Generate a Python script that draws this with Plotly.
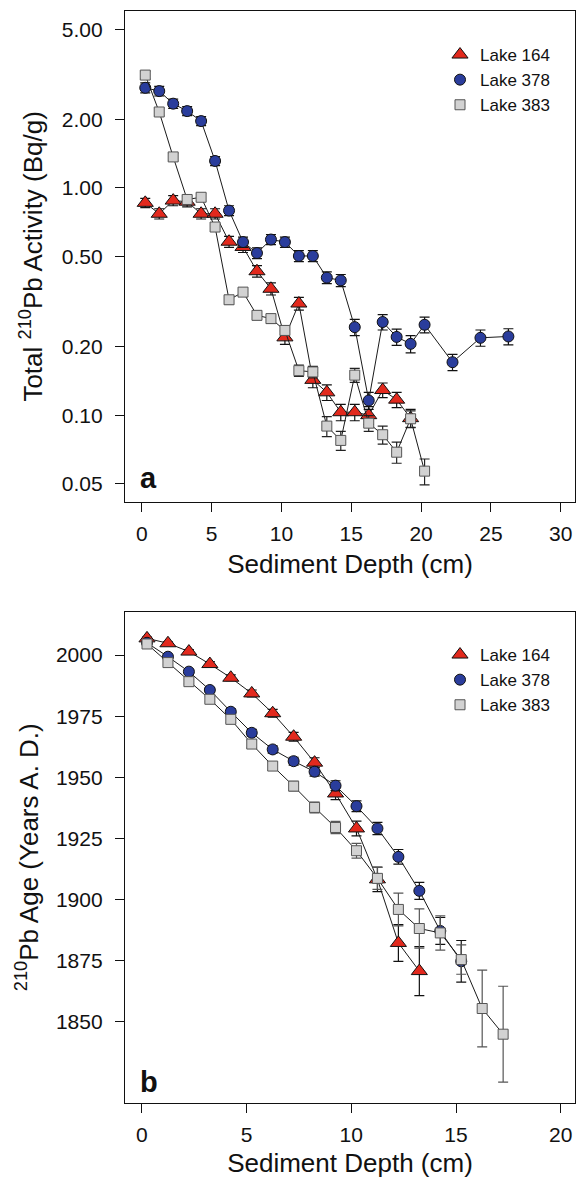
import plotly.graph_objects as go

# ---------------- data: panel a (total 210Pb activity, Bq/g) ----------------
depth_a_164 = [0.25, 1.25, 2.25, 3.25, 4.25, 5.25, 6.25, 7.25, 8.25, 9.25,
               10.25, 11.25, 12.25, 13.25, 14.25, 15.25, 16.25, 17.25, 18.25, 19.25]
act_164 = [0.86, 0.77, 0.88, 0.87, 0.77, 0.77, 0.58, 0.55, 0.43, 0.36,
           0.22, 0.31, 0.143, 0.126, 0.103, 0.103, 0.100, 0.129, 0.117, 0.097]
act_164_err = [0.04, 0.04, 0.045, 0.045, 0.04, 0.04, 0.032, 0.03, 0.025, 0.022,
               0.015, 0.02, 0.011, 0.01, 0.0085, 0.0085, 0.009, 0.0095, 0.009, 0.009]

depth_a_378 = [0.25, 1.25, 2.25, 3.25, 4.25, 5.25, 6.25, 7.25, 8.25, 9.25,
               10.25, 11.25, 12.25, 13.25, 14.25, 15.25, 16.25, 17.25, 18.25, 19.25,
               20.25, 22.25, 24.25, 26.25]
act_378 = [2.76, 2.67, 2.35, 2.18, 1.97, 1.315, 0.795, 0.578, 0.517, 0.593,
           0.578, 0.502, 0.502, 0.403, 0.392, 0.244, 0.116, 0.257, 0.221, 0.206,
           0.250, 0.171, 0.219, 0.222]
act_378_err = [0.14, 0.13, 0.11, 0.10, 0.09, 0.06, 0.04, 0.03, 0.028, 0.03,
               0.03, 0.028, 0.028, 0.024, 0.024, 0.02, 0.01, 0.02, 0.018, 0.018,
               0.02, 0.014, 0.018, 0.018]

depth_a_383 = [0.25, 1.25, 2.25, 3.25, 4.25, 5.25, 6.25, 7.25, 8.25, 9.25,
               10.25, 11.25, 12.25, 13.25, 14.25, 15.25, 16.25, 17.25, 18.25, 19.25,
               20.25]
act_383 = [3.14, 2.16, 1.37, 0.89, 0.91, 0.673, 0.322, 0.348, 0.275, 0.266,
           0.236, 0.157, 0.155, 0.0895, 0.0774, 0.150, 0.0922, 0.082, 0.0687, 0.0964,
           0.0567]
act_383_err = [0.12, 0.08, 0.05, 0.035, 0.035, 0.027, 0.014, 0.015, 0.012, 0.012,
               0.011, 0.009, 0.009, 0.009, 0.0074, 0.0105, 0.0073, 0.0075, 0.0073, 0.008,
               0.0074]

# ---------------- data: panel b (210Pb age, years A.D.) ----------------
depth_b_164 = [0.25, 1.25, 2.25, 3.25, 4.25, 5.25, 6.25, 7.25, 8.25, 9.25,
               10.25, 11.25, 12.25, 13.25]
age_164 = [2006.8, 2004.8, 2001.4, 1996.3, 1990.7, 1984.3, 1976.2, 1966.6, 1956.0, 1943.4,
           1929.1, 1908.3, 1882.3, 1870.8]
age_164_err = [0.5, 0.6, 0.8, 1.0, 1.2, 1.4, 1.6, 1.8, 2.0, 2.5,
               3.0, 5.0, 7.5, 10.0]

depth_b_378 = [0.25, 1.25, 2.25, 3.25, 4.25, 5.25, 6.25, 7.25, 8.25, 9.25,
               10.25, 11.25, 12.25, 13.25, 14.25, 15.25]
age_378 = [2005.0, 1999.3, 1993.2, 1985.7, 1976.8, 1968.2, 1961.4, 1956.6, 1952.3, 1946.6,
           1938.2, 1929.1, 1917.5, 1903.6, 1887.2, 1874.8]
age_378_err = [0.5, 0.6, 0.8, 1.0, 1.2, 1.4, 1.5, 1.6, 1.8, 2.0,
               2.2, 2.5, 3.0, 3.5, 5.5, 8.5]

depth_b_383 = [0.25, 1.25, 2.25, 3.25, 4.25, 5.25, 6.25, 7.25, 8.25, 9.25,
               10.25, 11.25, 12.25, 13.25, 14.25, 15.25, 16.25, 17.25]
age_383 = [2004.5, 1996.9, 1989.1, 1981.9, 1973.7, 1963.6, 1954.6, 1946.4, 1937.7, 1929.5,
           1920.0, 1908.7, 1896.0, 1888.2, 1886.4, 1875.5, 1855.5, 1845.0]
age_383_err = [0.5, 0.7, 0.9, 1.1, 1.3, 1.5, 1.7, 2.0, 2.2, 2.5,
               3.0, 4.5, 6.7, 8.0, 7.0, 6.0, 15.7, 19.6]

lake_names = ["Lake 164", "Lake 378", "Lake 383"]

ya_ticks = [5, 2, 1, 0.5, 0.2, 0.1, 0.05]
ya_ticktext = ["5.00", "2.00", "1.00", "0.50", "0.20", "0.10", "0.05"]
xa_ticks = [0, 5, 10, 15, 20, 25, 30]
yb_ticks = [1850, 1875, 1900, 1925, 1950, 1975, 2000]
xb_ticks = [0, 5, 10, 15, 20]

xa_title = "Sediment Depth (cm)"
ya_title = "Total <sup>210</sup>Pb Activity (Bq/g)"
xb_title = "Sediment Depth (cm)"
yb_title = "<sup>210</sup>Pb Age (Years A. D.)"

# ---------------- styles ----------------
FONT = "Liberation Sans, Arial, Helvetica, sans-serif"
W, H = 577, 1178
styles = {
    "Lake 164": dict(symbol="triangle-up", size=14, color="#e2291d", line=dict(color="#111111", width=1)),
    "Lake 378": dict(symbol="circle", size=11, color="#2a3d9c", line=dict(color="#111111", width=1)),
    "Lake 383": dict(symbol="square", size=10, color="#d2d2d2", line=dict(color="#555555", width=1)),
}

def px_y(p):
    return 1 - p / H

fig = go.Figure()

panel_a = [("Lake 164", depth_a_164, act_164, act_164_err, "#111111"),
           ("Lake 378", depth_a_378, act_378, act_378_err, "#111111"),
           ("Lake 383", depth_a_383, act_383, act_383_err, "#222222")]
panel_b = [("Lake 164", depth_b_164, age_164, age_164_err, "#111111"),
           ("Lake 378", depth_b_378, age_378, age_378_err, "#111111"),
           ("Lake 383", depth_b_383, age_383, age_383_err, "#555555")]

for (panel, xa, ya, leg) in [(panel_a, "x", "y", "legend"), (panel_b, "x2", "y2", "legend2")]:
    for name, xs, ys, es, ecol in panel:
        fig.add_trace(go.Scatter(
            x=xs, y=ys, mode="lines+markers", name=name, showlegend=False,
            xaxis=xa, yaxis=ya,
            line=dict(color="#1a1a1a", width=1),
            marker=styles[name],
            error_y=dict(type="data", array=es, visible=True, color=ecol, thickness=1.2, width=5),
        ))
    for name in lake_names:
        fig.add_trace(go.Scatter(
            x=[None], y=[None], mode="markers", name=name, showlegend=True,
            xaxis=xa, yaxis=ya, legend=leg, marker=styles[name],
        ))

axis_common = dict(
    ticks="outside", ticklen=9, tickwidth=1.2, tickcolor="#111111",
    showline=True, linewidth=1.3, linecolor="#111111", mirror=True,
    showgrid=False, zeroline=False, automargin=False,
    tickfont=dict(family=FONT, size=21, color="#111111"),
)
title_font = dict(family=FONT, size=26, color="#111111")

xdom = [125 / W, 575 / W]
legend_common = dict(xanchor="left", yanchor="top",
                     font=dict(family=FONT, size=17, color="#111111"),
                     bgcolor="rgba(0,0,0,0)", itemclick=False)
fig.update_layout(
    width=W, height=H,
    margin=dict(l=0, r=0, t=0, b=0),
    paper_bgcolor="white", plot_bgcolor="white",
    font=dict(family=FONT, color="#111111"),
    xaxis=dict(domain=xdom, anchor="y", range=[-1.2, 31.02], tickvals=xa_ticks,
               ticklabelstandoff=4,
               title=dict(text=xa_title, font=title_font, standoff=10), **axis_common),
    yaxis=dict(domain=[px_y(501.7), px_y(11)], anchor="x", type="log",
               range=[-1.381, 0.779], tickvals=ya_ticks, ticktext=ya_ticktext,
               ticklabelstandoff=8,
               title=dict(text=ya_title, font=title_font, standoff=11), **axis_common),
    xaxis2=dict(domain=xdom, anchor="y2", range=[-0.8, 20.68], tickvals=xb_ticks,
                ticklabelstandoff=4,
                title=dict(text=xb_title, font=title_font, standoff=10), **axis_common),
    yaxis2=dict(domain=[px_y(1102.7), px_y(611.7)], anchor="x2",
                range=[1817.0, 2017.7], tickvals=yb_ticks,
                ticklabelstandoff=8,
                title=dict(text=yb_title, font=title_font, standoff=9), **axis_common),
    legend=dict(x=440 / W, y=px_y(37), **legend_common),
    legend2=dict(x=440 / W, y=px_y(637), **legend_common),
)

for lab, yc in [("a", 478.5), ("b", 1081.5)]:
    fig.add_annotation(xref="paper", yref="paper", showarrow=False,
                       xanchor="left", yanchor="middle", x=138 / W, y=px_y(yc),
                       text="<b>%s</b>" % lab,
                       font=dict(family=FONT, size=29, color="#111111"))

fig.write_html("out.html")
